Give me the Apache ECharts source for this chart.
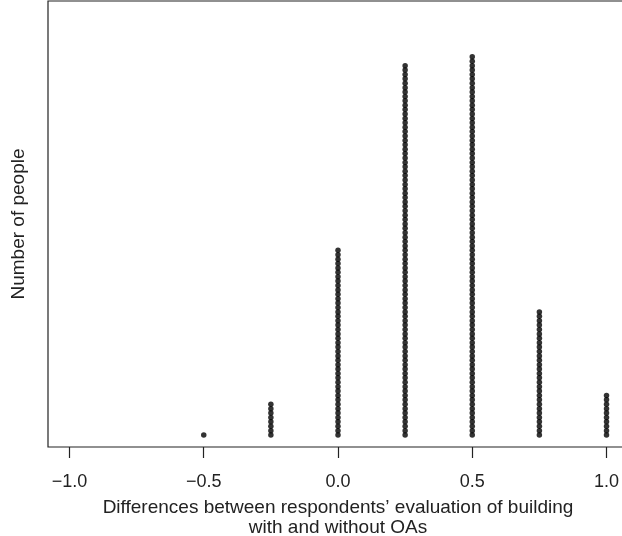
<!DOCTYPE html>
<html>
<head>
<meta charset="utf-8">
<script src="https://cdn.jsdelivr.net/npm/echarts@6/dist/echarts.min.js"></script>
<style>
  html, body { margin: 0; padding: 0; background: #fff; }
  #chart { width: 622px; height: 536px; }
</style>
</head>
<body>
<div id="chart"></div>
<script>
// difference values and how many respondents sit at each one
const diffs = [-0.5, -0.25, 0, 0.25, 0.5, 0.75, 1.0];
const counts = [1, 8, 43, 85, 87, 29, 10];
const tickValues = [-1, -0.5, 0, 0.5, 1];

// stack the dots: one point per person, y = position in the stack
const dots = [];
diffs.forEach((d, i) => {
    for (let k = 1; k <= counts[i]; k++) {
        dots.push([d, k]);
    }
});

const chart = echarts.init(document.getElementById('chart'));
chart.setOption({
    animation: false,
    textStyle: { fontFamily: 'Liberation Sans, Arial, sans-serif' },
    grid: {
        left: 48, right: -6, top: 1, bottom: 89,
        outerBoundsMode: 'none',
        containLabel: false,
        show: true, borderColor: '#222', borderWidth: 1.2
    },
    xAxis: {
        type: 'value',
        min: -1.08,
        max: 1.08,
        axisLine: { show: false, onZero: false },
        splitLine: { show: false },
        axisTick: {
            show: true, inside: false, length: 11,
            customValues: tickValues,
            lineStyle: { color: '#222', width: 1.2 }
        },
        axisLabel: {
            customValues: tickValues,
            margin: 26,
            fontSize: 18,
            color: '#222',
            formatter: v => (v < 0 ? '\u2212' : '') + Math.abs(v).toFixed(1)
        },
        name: 'Differences between respondents\u2019 evaluation of building\nwith and without OAs',
        nameLocation: 'middle',
        nameGap: 51,
        nameTextStyle: { fontSize: 19, color: '#222', lineHeight: 20 }
    },
    yAxis: {
        type: 'value',
        min: -1.72,
        max: 99.7,
        axisLine: { show: false, onZero: false },
        axisTick: { show: false },
        axisLabel: { show: false },
        splitLine: { show: false },
        name: 'Number of people',
        nameLocation: 'middle',
        nameGap: 20,
        nameTextStyle: { fontSize: 19, color: '#222' }
    },
    series: [{
        type: 'scatter',
        data: dots,
        symbol: 'circle',
        symbolSize: 5.5,
        itemStyle: { color: '#000' }
    }]
});
</script>
</body>
</html>
